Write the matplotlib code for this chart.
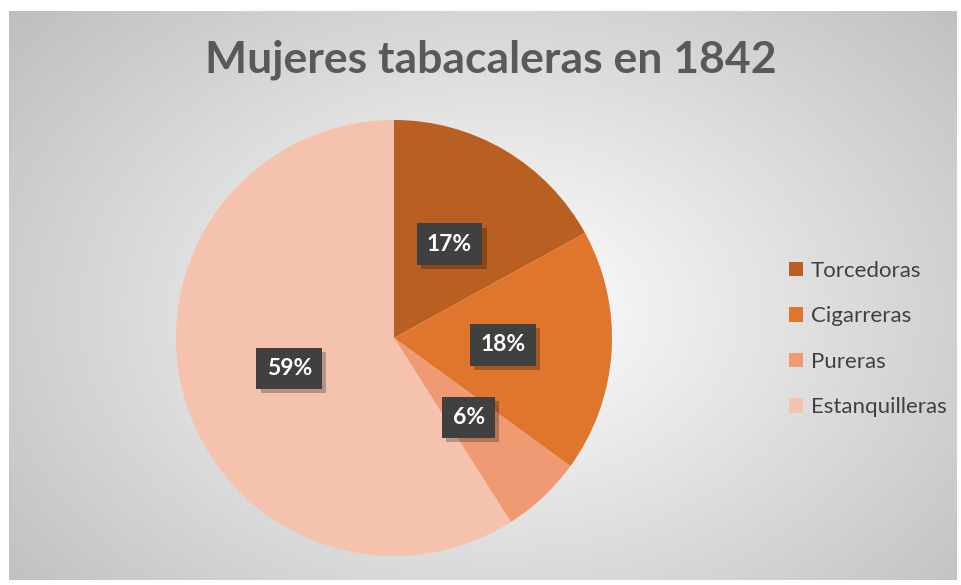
import numpy as np
import matplotlib
matplotlib.use("Agg")
import matplotlib.pyplot as plt
import matplotlib.patheffects as pe

title = "Mujeres tabacaleras en 1842"
categories = ["Torcedoras", "Cigarreras", "Pureras", "Estanquilleras"]
values = [17, 18, 6, 59]
colors = ["#B95F21", "#E0762D", "#F09A73", "#F5C2AE"]

W, H = 961, 585
fig = plt.figure(figsize=(W / 100, H / 100), dpi=100)
fig.patch.set_facecolor("white")

# background radial gradient chart area
bg = fig.add_axes([9 / W, 5 / H, (957 - 9) / W, (577 - 8) / H])
bg.set_axis_off()
yy, xx = np.mgrid[0:200, 0:330]
cx, cy = 170, 105
d = np.sqrt(((xx - cx) / 220) ** 2 + ((yy - cy) / 160) ** 2)
g = 1.0 - 0.25 * np.clip(d, 0, 1.2)
img = np.dstack([g, g, g])
bg.imshow(img, aspect="auto", extent=[0, 1, 0, 1], interpolation="bicubic")
bg.set_xlim(0, 1)
bg.set_ylim(0, 1)

plt.rcParams["font.family"] = ["Lato", "DejaVu Sans"]

fig.text(491 / W, 1 - 60 / H, title, ha="center", va="center",
         fontsize=32, fontweight="bold", color="#595959")

ax = fig.add_axes([(394 - 218) / W, 1 - (338 + 218) / H, 436 / W, 436 / H])
wedges, texts, autotexts = ax.pie(
    values, colors=colors, startangle=90, counterclock=False,
    autopct=lambda p: f"{p:.0f}%", pctdistance=0.5,
    wedgeprops=dict(linewidth=0),
    textprops=dict(color="white", fontsize=16.5, fontweight="bold"))
ax.set_xlim(-1, 1)
ax.set_ylim(-1, 1)
ax.set_aspect("equal")
for t in autotexts:
    t.set_bbox(dict(boxstyle="square,pad=0.45", facecolor="#404040", edgecolor="none"))
    t.get_bbox_patch().set_path_effects([
        pe.SimplePatchShadow(offset=(3, -3), shadow_rgbFace="black", alpha=0.25),
        pe.Normal()])

leg = fig.legend(wedges, categories, loc="center left",
                 bbox_to_anchor=(789 / W, 1 - 339 / H), frameon=False,
                 borderpad=0, borderaxespad=0,
                 fontsize=16, labelspacing=1.15, handlelength=0.62,
                 handleheight=0.62, handletextpad=0.35)
for t in leg.get_texts():
    t.set_color("#404040")

fig.savefig("out.png", dpi=100)
